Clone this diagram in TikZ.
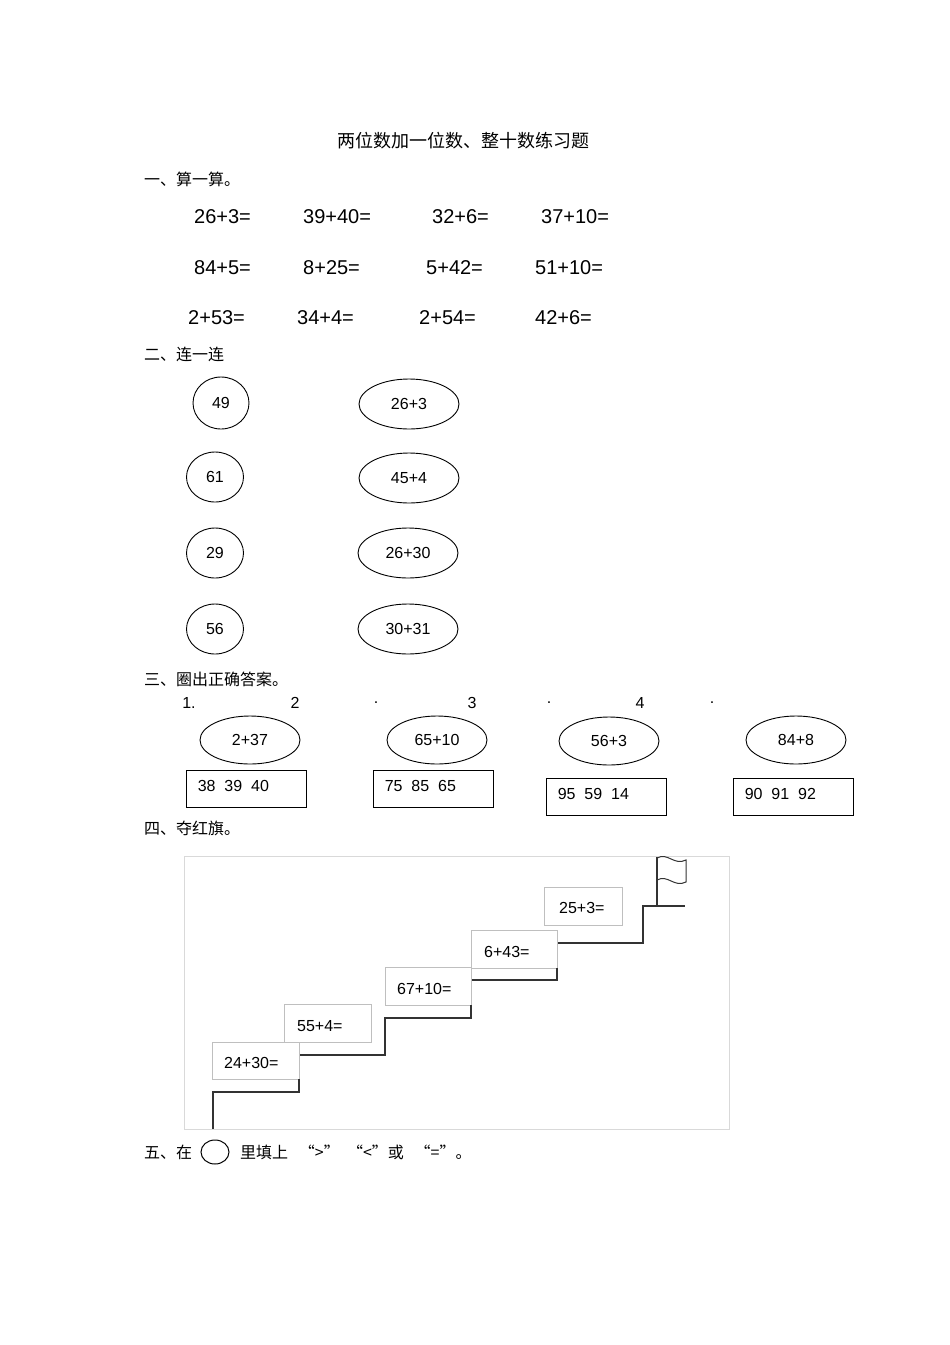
\documentclass[tikz,border=0pt]{standalone}
\usepackage{fontspec}
\usetikzlibrary{shapes.geometric}
\setmainfont{Liberation Sans}
\newfontfamily\cjk{Noto Sans CJK SC}
\begin{document}
\begin{tikzpicture}[x=1pt,y=-1pt,
  cn/.style={anchor=west,font=\cjk\fontsize{16}{18}\selectfont,inner sep=0},
  eq/.style={anchor=west,font=\fontsize{20}{22}\selectfont,inner sep=0},
  sm/.style={font=\fontsize{16}{18}\selectfont,inner sep=0},
  ell/.style={draw,ellipse,line width=0.9pt,font=\fontsize{16}{18}\selectfont},
  bx/.style={draw,line width=0.8pt,minimum width=120pt,minimum height=37pt,inner sep=0},
  st/.style={draw=black!25,line width=0.6pt,fill=white,font=\fontsize{16}{18}\selectfont,inner sep=0},
  stair/.style={line width=1.4pt,black!80}]
\useasboundingbox (0,0) rectangle (950,1345);
\node[font=\cjk\fontsize{18}{20}\selectfont] (title) at (463,141) {两位数加一位数、整十数练习题};
\node[cn] (s1) at (144,179) {一、算一算。};
\foreach \t/\x/\y [count=\i] in {26+3=/194/217,39+40=/303/217,32+6=/432/217,37+10=/541/217,
  84+5=/194/268,8+25=/303/268,5+42=/426/268,51+10=/535/268,
  2+53=/188/318,34+4=/297/318,2+54=/419/318,42+6=/535/318}
  \node[eq] (e\i) at (\x,\y) {\t};
\node[cn] (s2) at (144,354) {二、连一连};
\node[ell,minimum width=56pt,minimum height=52pt] (c1) at (221,403) {49};
\node[ell,minimum width=57pt,minimum height=50pt] (c2) at (215,477) {61};
\node[ell,minimum width=57pt,minimum height=50pt] (c3) at (215,553) {29};
\node[ell,minimum width=57pt,minimum height=50pt] (c4) at (215,629) {56};
\node[ell,minimum width=100pt,minimum height=50pt] (o1) at (409,404) {26+3};
\node[ell,minimum width=100pt,minimum height=50pt] (o2) at (409,478) {45+4};
\node[ell,minimum width=100pt,minimum height=50pt] (o3) at (408,553) {26+30};
\node[ell,minimum width=100pt,minimum height=50pt] (o4) at (408,629) {30+31};
\node[cn] (s3) at (144,679) {三、圈出正确答案。};
\foreach \t/\x [count=\i] in {1./189,2/295,./376,3/472,./549,4/640,./712}
  \node[sm] (n\i) at (\x,703) {\t};
\node[ell,minimum width=100pt,minimum height=48pt] (q1) at (250,740) {2+37};
\node[ell,minimum width=100pt,minimum height=48pt] (q2) at (437,740) {65+10};
\node[ell,minimum width=100pt,minimum height=48pt] (q3) at (609,741) {56+3};
\node[ell,minimum width=100pt,minimum height=48pt] (q4) at (796,740) {84+8};
\foreach \t/\x/\y [count=\i] in {38\ \ 39\ \ 40/246/789,75\ \ 85\ \ 65/433/789,95\ \ 59\ \ 14/606/797,90\ \ 91\ \ 92/793/797}{
  \node[bx] (b\i) at (\x,\y) {};
  \node[sm,anchor=west] (bt\i) at ([xshift=12pt,yshift=3pt]b\i.west) {\t};
  \draw[line width=1.6pt] (b\i.north east) -- (b\i.south east);
}
\node[cn] (s4) at (144,828) {四、夺红旗。};
\draw[black!15,line width=0.8pt] (184,856) rectangle (729,1129);
\draw[stair] (213,1129) -- (213,1092) -- (299,1092) -- (299,1055) -- (385,1055) -- (385,1018) -- (471,1018) -- (471,980) -- (557,980) -- (557,943) -- (643,943) -- (643,906) -- (685,906);
\draw[line width=1.2pt,black!80] (657,906) -- (657,857);
\draw[line width=1pt,black!80] (657,858) .. controls (668,852) and (674,866) .. (686,860) -- (686,882) .. controls (674,888) and (668,874) .. (657,880);
\node[st,minimum width=87pt,minimum height=37pt] (p1) at (255.5,1060.5) {};
\node[sm,anchor=west] (pt1) at (224,1063) {24+30=};
\node[st,minimum width=87pt,minimum height=38pt] (p2) at (327.5,1023) {};
\node[sm,anchor=west] (pt2) at (297,1026) {55+4=};
\node[st,minimum width=86pt,minimum height=38pt] (p3) at (428,986) {};
\node[sm,anchor=west] (pt3) at (397,989) {67+10=};
\node[st,minimum width=86pt,minimum height=38pt] (p4) at (514,949) {};
\node[sm,anchor=west] (pt4) at (484,952) {6+43=};
\node[st,minimum width=78pt,minimum height=38pt] (p5) at (583,906) {};
\node[sm,anchor=west] (pt5) at (559,908) {25+3=};
\draw[stair] (299,1079) -- (299,1092);
\draw[stair] (385,1042) -- (385,1055);
\draw[stair] (471,1005) -- (471,1018);
\draw[stair] (557,968) -- (557,980);
\node[cn] (s5) at (144,1152) {五、在};
\draw[line width=1pt] (215,1152) ellipse (14pt and 12pt);
\node[cn] (s5b) at (240,1152) {里填上\ \ \ “>”\ \ “<”或\ \ \ “=”。};
\end{tikzpicture}
\end{document}
